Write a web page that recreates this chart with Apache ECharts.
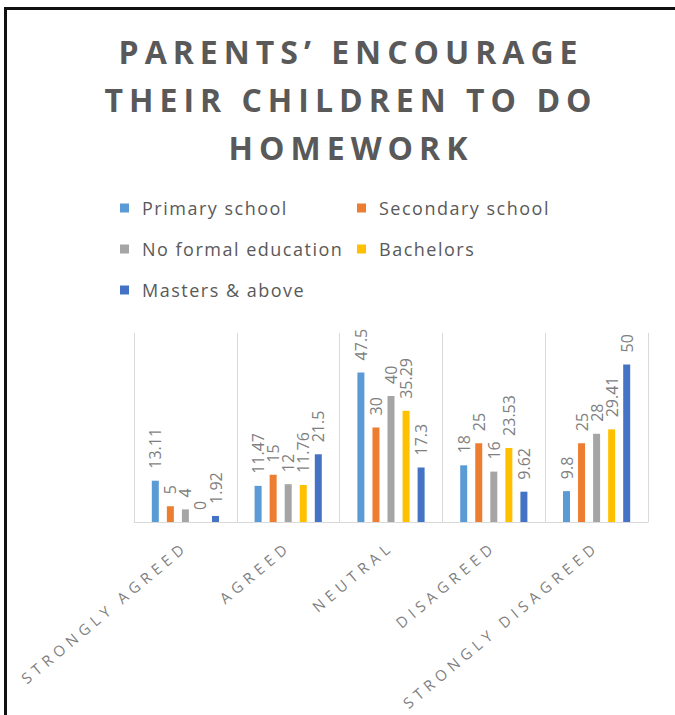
<!DOCTYPE html>
<html>
<head>
<meta charset="utf-8">
<script src="https://cdn.jsdelivr.net/npm/echarts@6/dist/echarts.min.js"></script>
<style>
  html, body { margin: 0; padding: 0; background: #fff; }
  #chart { position: absolute; left: 0; top: 0; width: 675px; height: 715px; }
  #frame { position: absolute; left: 4px; top: 7px; width: 700px; height: 720px;
           border-top: 3px solid #111; border-left: 3px solid #111; pointer-events: none; }
  #chart text[style*="32px"] { letter-spacing: 6px; }
  #chart text[style*="18px"] { letter-spacing: 1.5px; }
  #chart text[style*="15px"] { letter-spacing: 5px; }
</style>
</head>
<body>
<div id="chart"></div>
<div id="frame"></div>
<script>
const titleText = 'PARENTS\u2019 ENCOURAGE\nTHEIR CHILDREN TO DO\nHOMEWORK';
const categories = ['STRONGLY AGREED', 'AGREED', 'NEUTRAL', 'DISAGREED', 'STRONGLY DISAGREED'];
const seriesNames = ['Primary school', 'Secondary school', 'No formal education', 'Bachelors', 'Masters & above'];
const primarySchool = [13.11, 11.47, 47.5, 18, 9.8];
const secondarySchool = [5, 15, 30, 25, 25];
const noFormalEducation = [4, 12, 40, 16, 28];
const bachelors = [0, 11.76, 35.29, 23.53, 29.41];
const mastersAbove = [1.92, 21.5, 17.3, 9.62, 50];
const colors = ['#5B9BD5', '#ED7D31', '#A5A5A5', '#FFC000', '#4472C4'];

const values = [primarySchool, secondarySchool, noFormalEducation, bachelors, mastersAbove];
const font = "'Open Sans', sans-serif";

const chart = echarts.init(document.getElementById('chart'), null, { renderer: 'svg' });
const legendText = {
  color: '#595959', fontSize: 18, fontFamily: font, lineHeight: 20, padding: [0, 0, 0, 8]
};
chart.setOption({
  animation: false,
  backgroundColor: '#ffffff',
  color: colors,
  title: {
    text: titleText,
    left: 346,
    textAlign: 'center',
    top: 22,
    textStyle: { color: '#595959', fontSize: 32, fontWeight: 'bold', fontFamily: font, lineHeight: 48 }
  },
  legend: [
    {
      data: [seriesNames[0], seriesNames[2], seriesNames[4]],
      orient: 'vertical', left: 115, top: 193, itemGap: 21,
      itemWidth: 9, itemHeight: 9, icon: 'rect', textStyle: legendText
    },
    {
      data: [seriesNames[1], seriesNames[3]],
      orient: 'vertical', left: 352, top: 193, itemGap: 21,
      itemWidth: 9, itemHeight: 9, icon: 'rect', textStyle: legendText
    }
  ],
  grid: { left: 134, right: 27, top: 333, bottom: 193, containLabel: false },
  xAxis: {
    type: 'category',
    data: categories,
    axisLine: { lineStyle: { color: '#d9d9d9', width: 1 } },
    axisTick: { show: false },
    splitLine: { show: true, lineStyle: { color: '#d9d9d9', width: 1 } },
    axisLabel: {
      rotate: 40, margin: 22, interval: 0,
      color: '#7f7f7f', fontSize: 15, fontFamily: font
    }
  },
  yAxis: { type: 'value', min: 0, max: 60, show: false },
  series: seriesNames.map((name, i) => ({
    name: name,
    type: 'bar',
    data: values[i],
    barWidth: 7,
    barGap: '115%',
    itemStyle: { color: colors[i] },
    label: {
      show: true, position: 'top', rotate: 90, distance: 12,
      align: 'left', verticalAlign: 'middle',
      color: '#7f7f7f', fontSize: 16, fontFamily: font
    }
  }))
});
</script>
</body>
</html>
